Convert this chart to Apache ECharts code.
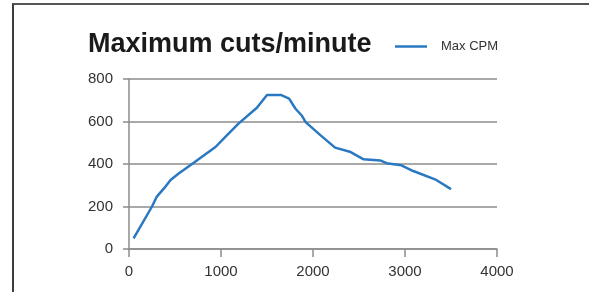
<!DOCTYPE html>
<html>
<head>
<meta charset="utf-8">
<script src="https://cdn.jsdelivr.net/npm/echarts@6/dist/echarts.min.js"></script>
<style>
  html, body { margin: 0; padding: 0; background: #fff; }
  #wrap { position: relative; width: 589px; height: 292px; }
  #chart { position: absolute; left: 0; top: 0; width: 589px; height: 292px; }
  #frame {
    position: absolute; left: 12px; top: 3px; right: 0; bottom: 0;
    border-left: 2px solid #3c3c3c; border-top: 2px solid #555;
    pointer-events: none;
  }
</style>
</head>
<body>
<div id="wrap">
  <div id="chart"></div>
  <div id="frame"></div>
</div>
<script>
// speed (x) vs max cuts per minute (y)
const speedValues = [50, 250, 300, 380, 452, 540, 670, 940, 1066, 1190, 1390, 1500, 1650, 1740, 1810, 1880, 1920, 2080, 2240, 2400, 2550, 2730, 2800, 2960, 3090, 3340, 3500]
const cpmValues = [50, 200, 245, 285, 325, 355, 395, 480, 536, 590, 665, 725, 725, 708, 660, 627, 597, 536, 477, 458, 422, 417, 404, 394, 367, 325, 282]
const seriesName = 'Max CPM'
const xTicks = [0, 1000, 2000, 3000, 4000]
const yTicks = [0, 200, 400, 600, 800]

const font = '"Liberation Sans", Arial, Helvetica, sans-serif'
const axisGray = '#8c8c8c'
const lineBlue = '#2a78c2'

const chart = echarts.init(document.getElementById('chart'))

chart.setOption({
  animation: false,
  title: {
    text: 'Maximum cuts/minute',
    left: 88,
    top: 31,
    padding: 0,
    textStyle: { fontFamily: font, fontSize: 27, fontWeight: 'bold', color: '#1a1a1a' },
  },
  legend: {
    left: 395,
    top: 40,
    padding: 0,
    icon: 'rect',
    itemWidth: 32,
    itemHeight: 2.5,
    textStyle: { fontFamily: font, fontSize: 13, color: '#333', padding: [0, 0, 0, 9] },
    data: [seriesName],
  },
  grid: { left: 129, right: 92, top: 79, bottom: 43 },
  xAxis: {
    type: 'value',
    min: xTicks[0],
    max: xTicks[xTicks.length - 1],
    interval: 1000,
    axisLine: { lineStyle: { color: axisGray, width: 1.5 } },
    axisTick: { show: true, length: 8, lineStyle: { color: axisGray, width: 1.5 } },
    axisLabel: { margin: 15, fontFamily: font, fontSize: 15, color: '#333', formatter: (v) => String(v) },
    splitLine: { show: false },
  },
  yAxis: {
    type: 'value',
    min: yTicks[0],
    max: yTicks[yTicks.length - 1],
    interval: 200,
    axisLine: { show: true, lineStyle: { color: axisGray, width: 1.5 } },
    axisTick: { show: true, length: 6, lineStyle: { color: axisGray, width: 1.5 } },
    axisLabel: { margin: 16, fontFamily: font, fontSize: 15, color: '#333', padding: [0, 0, 8, 0], formatter: (v) => String(v) },
    splitLine: { show: true, lineStyle: { color: axisGray, width: 1.5 } },
  },
  series: [{
    name: seriesName,
    type: 'line',
    symbol: 'none',
    color: lineBlue,
    lineStyle: { color: lineBlue, width: 2.5 },
    data: speedValues.map((x, i) => [x, cpmValues[i]]),
  }],
})
</script>
</body>
</html>
